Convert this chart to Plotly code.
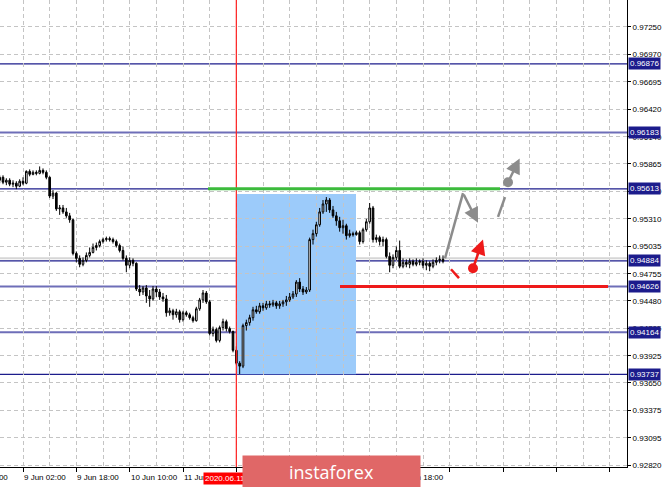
import plotly.graph_objects as go

# hourly bars, index 0 = 9 Jun 02:00
first_bar = -7
opens = [
    0.9570, 0.9573, 0.9568, 0.9570, 0.9566, 0.9567, 0.9564, 0.9569, 0.9567, 0.9579,
    0.9576, 0.9578, 0.9577, 0.9580, 0.9578, 0.9573, 0.9554, 0.9557, 0.9541, 0.9542,
    0.9538, 0.9534, 0.9530, 0.9496, 0.9491, 0.9485, 0.9489, 0.9494, 0.9497, 0.9502,
    0.9504, 0.9508, 0.9510, 0.9511, 0.9510, 0.9508, 0.9504, 0.9499, 0.9491, 0.9484,
    0.9489, 0.9486, 0.9460, 0.9457, 0.9461, 0.9453, 0.9450, 0.9460, 0.9457, 0.9452,
    0.9450, 0.9436, 0.9438, 0.9434, 0.9437, 0.9429, 0.9436, 0.9434, 0.9431, 0.9428,
    0.9440, 0.9449, 0.9456, 0.9447, 0.9415, 0.9419, 0.9408, 0.9421, 0.9427, 0.9420,
    0.9417, 0.9398, 0.9385, 0.9382, 0.9423, 0.9426, 0.9431, 0.9439, 0.9437, 0.9443,
    0.9441, 0.9445, 0.9444, 0.9446, 0.9443, 0.9445, 0.9447, 0.9449, 0.9452, 0.9455,
    0.9467, 0.9460, 0.9457, 0.9459, 0.9510, 0.9516, 0.9525, 0.9538, 0.9546, 0.9550,
    0.9540, 0.9534, 0.9529, 0.9522, 0.9524, 0.9514, 0.9516, 0.9515, 0.9517, 0.9508,
    0.9520, 0.9528, 0.9542, 0.9510, 0.9512, 0.9508, 0.9510, 0.9493, 0.9484, 0.9492,
    0.9499, 0.9483, 0.9487, 0.9485, 0.9488, 0.9485, 0.9487, 0.9488, 0.9484, 0.9486,
    0.9483, 0.9487, 0.9489, 0.9490,
]
highs = [
    0.9575, 0.9575, 0.9572, 0.9572, 0.9570, 0.9569, 0.9571, 0.9573, 0.9580, 0.9581,
    0.9580, 0.9580, 0.9584, 0.9582, 0.9580, 0.9574, 0.9560, 0.9558, 0.9545, 0.9545,
    0.9542, 0.9537, 0.9531, 0.9498, 0.9494, 0.9492, 0.9497, 0.9502, 0.9506, 0.9507,
    0.9510, 0.9512, 0.9513, 0.9513, 0.9512, 0.9510, 0.9506, 0.9503, 0.9494, 0.9492,
    0.9491, 0.9487, 0.9464, 0.9463, 0.9464, 0.9459, 0.9463, 0.9463, 0.9460, 0.9456,
    0.9454, 0.9441, 0.9440, 0.9440, 0.9439, 0.9438, 0.9438, 0.9436, 0.9433, 0.9442,
    0.9451, 0.9459, 0.9458, 0.9449, 0.9422, 0.9421, 0.9423, 0.9430, 0.9429, 0.9422,
    0.9418, 0.9402, 0.9387, 0.9425, 0.9429, 0.9434, 0.9442, 0.9443, 0.9446, 0.9446,
    0.9448, 0.9448, 0.9449, 0.9448, 0.9448, 0.9449, 0.9453, 0.9456, 0.9458, 0.9469,
    0.9471, 0.9463, 0.9462, 0.9512, 0.9520, 0.9528, 0.9542, 0.9550, 0.9553, 0.9552,
    0.9544, 0.9538, 0.9533, 0.9530, 0.9526, 0.9520, 0.9518, 0.9519, 0.9519, 0.9522,
    0.9531, 0.9547, 0.9544, 0.9515, 0.9514, 0.9513, 0.9512, 0.9497, 0.9495, 0.9503,
    0.9509, 0.9491, 0.9490, 0.9491, 0.9490, 0.9491, 0.9490, 0.9491, 0.9489, 0.9488,
    0.9490, 0.9492, 0.9494, 0.9494,
]
lows = [
    0.9567, 0.9566, 0.9565, 0.9564, 0.9563, 0.9561, 0.9563, 0.9565, 0.9566, 0.9574,
    0.9575, 0.9575, 0.9576, 0.9576, 0.9571, 0.9552, 0.9551, 0.9539, 0.9535, 0.9536,
    0.9532, 0.9527, 0.9494, 0.9487, 0.9482, 0.9483, 0.9487, 0.9492, 0.9496, 0.9499,
    0.9502, 0.9506, 0.9508, 0.9508, 0.9506, 0.9502, 0.9497, 0.9489, 0.9477, 0.9481,
    0.9483, 0.9458, 0.9453, 0.9454, 0.9446, 0.9442, 0.9448, 0.9452, 0.9449, 0.9447,
    0.9432, 0.9433, 0.9429, 0.9431, 0.9426, 0.9427, 0.9432, 0.9429, 0.9426, 0.9427,
    0.9438, 0.9446, 0.9445, 0.9413, 0.9412, 0.9406, 0.9406, 0.9418, 0.9417, 0.9415,
    0.9396, 0.9383, 0.9374, 0.9380, 0.9418, 0.9423, 0.9428, 0.9435, 0.9435, 0.9438,
    0.9439, 0.9441, 0.9442, 0.9440, 0.9440, 0.9442, 0.9443, 0.9447, 0.9450, 0.9452,
    0.9457, 0.9454, 0.9455, 0.9457, 0.9505, 0.9513, 0.9523, 0.9536, 0.9538, 0.9537,
    0.9532, 0.9524, 0.9518, 0.9516, 0.9510, 0.9512, 0.9513, 0.9514, 0.9505, 0.9506,
    0.9518, 0.9526, 0.9507, 0.9507, 0.9504, 0.9503, 0.9491, 0.9477, 0.9481, 0.9489,
    0.9481, 0.9481, 0.9482, 0.9481, 0.9483, 0.9483, 0.9484, 0.9481, 0.9479, 0.9478,
    0.9481, 0.9484, 0.9486, 0.9486,
]
closes = [
    0.9573, 0.9568, 0.9570, 0.9566, 0.9567, 0.9564, 0.9569, 0.9567, 0.9579, 0.9576,
    0.9578, 0.9577, 0.9580, 0.9578, 0.9573, 0.9554, 0.9557, 0.9541, 0.9542, 0.9538,
    0.9534, 0.9530, 0.9496, 0.9491, 0.9485, 0.9489, 0.9494, 0.9497, 0.9502, 0.9504,
    0.9508, 0.9510, 0.9511, 0.9510, 0.9508, 0.9504, 0.9499, 0.9491, 0.9484, 0.9489,
    0.9486, 0.9460, 0.9457, 0.9461, 0.9453, 0.9450, 0.9460, 0.9457, 0.9452, 0.9450,
    0.9436, 0.9438, 0.9434, 0.9437, 0.9429, 0.9436, 0.9434, 0.9431, 0.9428, 0.9440,
    0.9449, 0.9456, 0.9447, 0.9415, 0.9419, 0.9408, 0.9421, 0.9427, 0.9420, 0.9417,
    0.9398, 0.9385, 0.9382, 0.9423, 0.9426, 0.9431, 0.9439, 0.9437, 0.9443, 0.9441,
    0.9445, 0.9444, 0.9446, 0.9443, 0.9445, 0.9447, 0.9449, 0.9452, 0.9455, 0.9467,
    0.9460, 0.9457, 0.9459, 0.9510, 0.9516, 0.9525, 0.9538, 0.9546, 0.9550, 0.9540,
    0.9534, 0.9529, 0.9522, 0.9524, 0.9514, 0.9516, 0.9515, 0.9517, 0.9508, 0.9520,
    0.9528, 0.9542, 0.9510, 0.9512, 0.9508, 0.9510, 0.9493, 0.9484, 0.9492, 0.9499,
    0.9483, 0.9487, 0.9485, 0.9488, 0.9485, 0.9487, 0.9488, 0.9484, 0.9486, 0.9483,
    0.9487, 0.9489, 0.9490, 0.9488,
]
bars = list(range(first_bar, first_bar + len(closes)))

price_ticks = [0.97250, 0.96970, 0.96695, 0.96420, 0.96140, 0.95865, 0.95590, 0.95310,
               0.95035, 0.94755, 0.94480, 0.94205, 0.93925, 0.93650, 0.93375, 0.93095, 0.92820]
time_ticks = [0, 16, 32, 48, 64, 80, 96, 112]
time_labels = ["9 Jun 02:00", "9 Jun 18:00", "10 Jun 10:00", "11 Jun 02:00",
               "11 Jun 18:00", "12 Jun 10:00", "15 Jun 02:00", "15 Jun 18:00"]

levels_dark = [0.96876, 0.95613, 0.94884, 0.93737]
levels_light = [0.96183, 0.94626, 0.94164]
bid = 0.9491
marker_bar = 64                      # 2020.06.11 18:00
zone = dict(x=(64.2, 99.9), y=(0.93737, 0.9556))
target_up = dict(x=(55.5, 143.1), y=0.95613)
target_dn = dict(x=(95.1, 175.5), y=0.94626)

# forecast sketch (bar, price)
grey_path = [(126.6, 0.9491), (132.0, 0.9557), (136.5, 0.9527)]
red_tick = [(128.4, 0.9480), (130.8, 0.9471)]
red_arrow = [(135.0, 0.9481), (138.0, 0.9510)]
grey_tick = [(142.5, 0.9533), (144.6, 0.9553)]
grey_arrow = [(145.5, 0.9568), (149.0, 0.9592)]

GRID = "#c4c4c4"
NAVY = "#1c1c8c"
GREY = "#8c8c8c"
RED = "#ee1a1a"
FONT = "Liberation Sans"

fig = go.Figure(go.Candlestick(
    x=bars, open=opens, high=highs, low=lows, close=closes,
    increasing=dict(fillcolor="white", line=dict(color="black", width=1)),
    decreasing=dict(fillcolor="black", line=dict(color="black", width=1)),
    whiskerwidth=0, showlegend=False, hoverinfo="skip"))

fig.add_trace(go.Scatter(x=[red_arrow[0][0], grey_arrow[0][0]], y=[red_arrow[0][1], grey_arrow[0][1]],
                         mode="markers", marker=dict(size=10, color=[RED, GREY]),
                         showlegend=False, hoverinfo="skip"))

shapes = [dict(type="rect", xref="x", yref="y", x0=zone["x"][0], x1=zone["x"][1],
               y0=zone["y"][0], y1=zone["y"][1], fillcolor="#9ccbfa", line_width=0, layer="below")]
shapes.append(dict(type="line", xref="paper", yref="y", x0=0, x1=1, y0=bid, y1=bid,
                   line=dict(color="#d6d6d6", width=2), layer="between"))
for lv in levels_light:
    shapes.append(dict(type="line", xref="paper", yref="y", x0=0, x1=1, y0=lv, y1=lv,
                       line=dict(color="#6e6eb8", width=2), layer="between"))
for lv in levels_dark:
    shapes.append(dict(type="line", xref="paper", yref="y", x0=0, x1=1, y0=lv, y1=lv,
                       line=dict(color=NAVY, width=1.2), layer="between"))
shapes.append(dict(type="line", xref="x", yref="paper", x0=marker_bar, x1=marker_bar, y0=0, y1=1,
                   line=dict(color="#ff2020", width=1.2)))
shapes.append(dict(type="line", xref="x", yref="y", x0=target_up["x"][0], x1=target_up["x"][1],
                   y0=target_up["y"], y1=target_up["y"], line=dict(color="#3cbb3c", width=3)))
shapes.append(dict(type="line", xref="x", yref="y", x0=target_dn["x"][0], x1=target_dn["x"][1],
                   y0=target_dn["y"], y1=target_dn["y"], line=dict(color=RED, width=3)))
for seg, col in [(grey_path[:2], GREY), (red_tick, RED), (grey_tick, GREY)]:
    shapes.append(dict(type="line", xref="x", yref="y", x0=seg[0][0], y0=seg[0][1],
                       x1=seg[1][0], y1=seg[1][1], line=dict(color=col, width=2.5)))

annotations = []
for (tail, head), col in [((grey_path[1], grey_path[2]), GREY), ((red_arrow[0], red_arrow[1]), RED),
                          ((grey_arrow[0], grey_arrow[1]), GREY)]:
    annotations.append(dict(x=head[0], y=head[1], ax=tail[0], ay=tail[1], xref="x", yref="y",
                            axref="x", ayref="y", showarrow=True, arrowhead=2, arrowsize=1.2,
                            arrowwidth=2.5, arrowcolor=col, standoff=0, text=""))

for lv in levels_dark + levels_light:
    annotations.append(dict(x=1, y=lv, xref="paper", yref="y", xanchor="left", yanchor="middle",
                            xshift=1, text=f"{lv:.5f}", showarrow=False, bgcolor=NAVY, borderpad=1,
                            font=dict(family=FONT, size=8, color="white")))

annotations.append(dict(x=0, y=0, xref="paper", yref="paper", xanchor="right", yanchor="top",
                        xshift=10, yshift=-4, text="8 Jun 10:00", showarrow=False,
                        font=dict(family=FONT, size=8, color="black")))
for t, lab in zip(time_ticks, time_labels):
    annotations.append(dict(x=t, y=0, xref="x", yref="paper", xanchor="left", yanchor="top",
                            xshift=-1, yshift=-4, text=lab, showarrow=False,
                            font=dict(family=FONT, size=8, color="black")))
annotations.append(dict(x=marker_bar, y=0, xref="x", yref="paper", xanchor="center", yanchor="top",
                        yshift=-5, text="2020.06.11 18:00", showarrow=False, bgcolor="#ff0000",
                        borderpad=1, font=dict(family=FONT, size=8, color="white")))
annotations.append(dict(x=0.5295, y=-0.0096, xref="paper", yref="paper", xanchor="center",
                        yanchor="middle", width=177, height=31, borderpad=0, text="instaforex",
                        showarrow=False, bgcolor="#e06767",
                        font=dict(family="Open Sans", size=18, color="white")))

fig.update_layout(
    width=665, height=487,
    margin=dict(l=0, r=38, t=0, b=20),
    paper_bgcolor="white", plot_bgcolor="white",
    font=dict(family=FONT, size=8, color="black"),
    shapes=shapes, annotations=annotations,
    xaxis=dict(range=[-6.9, 181.2], rangeslider=dict(visible=False), tick0=0, dtick=16,
               ticks="outside", ticklen=4, tickcolor="black", showticklabels=False,
               showgrid=True, gridcolor=GRID, griddash="4px,3px", gridwidth=1,
               minor=dict(dtick=8, tick0=0, showgrid=True, gridcolor=GRID, griddash="4px,3px", ticklen=0),
               showline=True, linecolor="black", linewidth=1, zeroline=False, automargin=False),
    yaxis=dict(range=[0.92800, 0.97523], side="right", tickmode="array", tickvals=price_ticks,
               ticktext=[f"{v:.5f}" for v in price_ticks], ticks="outside", ticklen=3,
               tickcolor="black", showgrid=True, gridcolor=GRID, griddash="4px,3px",
               showline=True, linecolor="black", linewidth=1, zeroline=False, automargin=False,
               tickfont=dict(family=FONT, size=8, color="black")),
)

fig.write_html("out.html", config={"displayModeBar": False},
               post_script="document.body.style.margin='0';")
